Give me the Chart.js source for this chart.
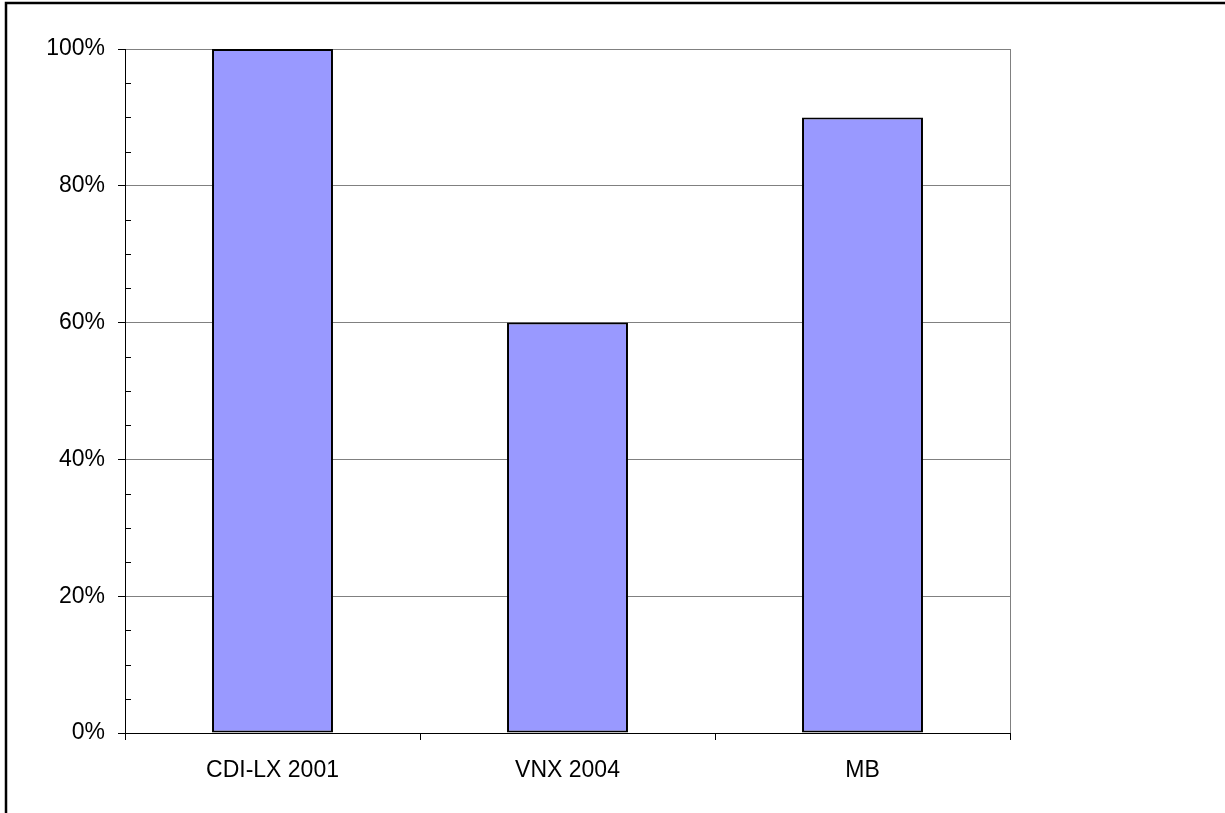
<!DOCTYPE html>
<html>
<head>
<meta charset="utf-8">
<script src="https://cdn.jsdelivr.net/npm/chart.js@4/dist/chart.umd.min.js"></script>
<style>
  html, body { margin: 0; padding: 0; background: #fff; overflow: hidden; }
  canvas { display: block; }
</style>
</head>
<body>
<canvas id="chart" width="1225" height="813"></canvas>
<script>
// Categorias e percentuais de cada barra
const categorias = ['CDI-LX 2001', 'VNX 2004', 'MB'];
const percentuais = [100, 60, 90];
const rotulosY = [0, 20, 40, 60, 80, 100];

const COR_BARRA = '#9999FF';
const COR_GRADE = '#808080';
const FONTE = { family: "'Liberation Sans', Arial, sans-serif", size: 23 };

// Moldura externa, borda da área de plotagem e marcas menores do eixo Y
const molduraPlugin = {
    id: 'moldura',
    beforeDatasetsDraw(chart) {
        const { ctx, chartArea: a } = chart;
        ctx.save();
        ctx.strokeStyle = COR_GRADE;
        ctx.lineWidth = 1;
        ctx.beginPath();
        ctx.moveTo(Math.round(a.right) + 0.5, a.top);
        ctx.lineTo(Math.round(a.right) + 0.5, a.bottom);
        ctx.stroke();
        ctx.restore();
    },
    afterDraw(chart) {
        const { ctx, chartArea: a, scales } = chart;
        ctx.save();
        // marcas menores a cada 5%, para dentro da área
        ctx.strokeStyle = '#000';
        ctx.lineWidth = 1;
        ctx.beginPath();
        for (let v = 5; v < 100; v += 5) {
            if (v % 20 === 0) continue;
            const y = Math.round(scales.y.getPixelForValue(v)) + 0.5;
            ctx.moveTo(a.left, y);
            ctx.lineTo(a.left + 6, y);
        }
        ctx.stroke();
        // moldura do gráfico
        ctx.lineWidth = 2.5;
        ctx.strokeRect(6, 3, 1400, 1000);
        ctx.restore();
    }
};

new Chart(document.getElementById('chart'), {
    type: 'bar',
    data: {
        labels: categorias,
        datasets: [{
            data: percentuais,
            backgroundColor: COR_BARRA,
            borderColor: '#000',
            borderWidth: 2,
            borderSkipped: false,
            barPercentage: 0.41,
            categoryPercentage: 1
        }]
    },
    options: {
        responsive: false,
        animation: false,
        devicePixelRatio: 1,
        layout: { padding: { left: 0, top: 49, right: 215, bottom: 0 } },
        plugins: {
            legend: { display: false },
            tooltip: { enabled: false }
        },
        scales: {
            x: {
                grid: {
                    offset: true,
                    drawOnChartArea: false,
                    tickLength: 7,
                    color: '#000'
                },
                border: { color: '#000', width: 1 },
                ticks: {
                    color: '#000',
                    padding: 17,
                    font: FONTE
                },
                afterFit(scale) { scale.height = 80; }
            },
            y: {
                min: 0,
                max: 100,
                afterBuildTicks(scale) {
                    scale.ticks = rotulosY.map(v => ({ value: v }));
                },
                grid: {
                    color: COR_GRADE,
                    tickColor: '#000',
                    tickLength: 7
                },
                border: { color: '#000', width: 1 },
                ticks: {
                    color: '#000',
                    padding: 13,
                    callback: v => v + '%',
                    font: FONTE
                },
                afterFit(scale) { scale.width = 125; }
            }
        }
    },
    plugins: [molduraPlugin]
});
</script>
</body>
</html>
